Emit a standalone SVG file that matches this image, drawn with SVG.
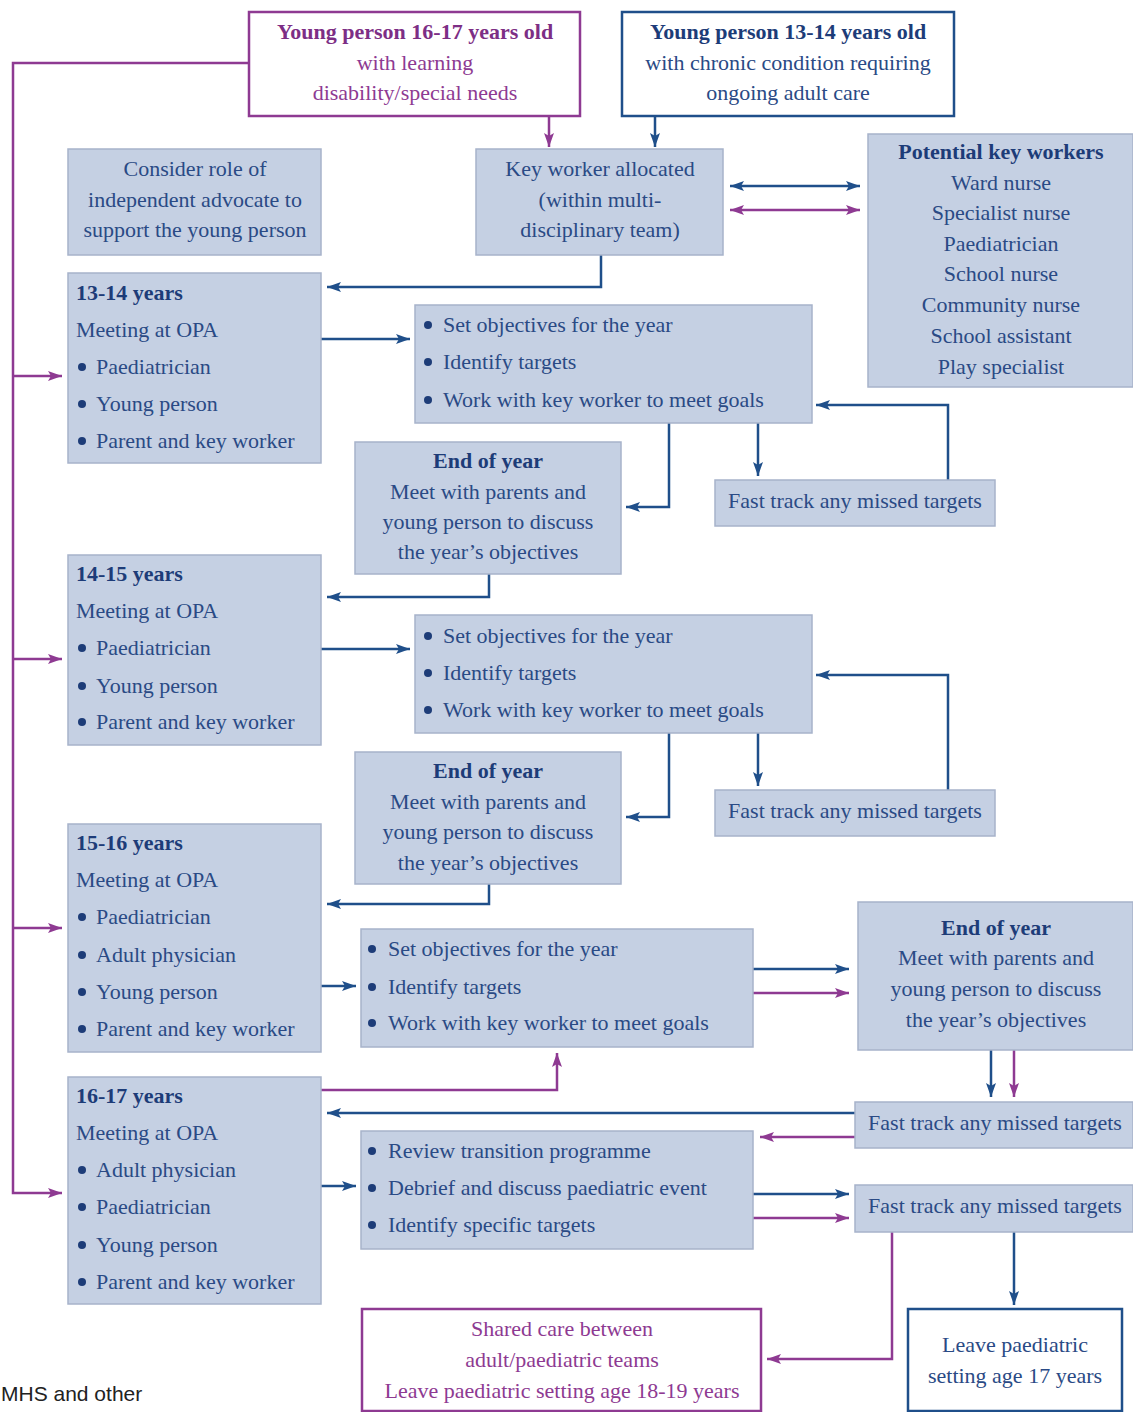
<svg xmlns="http://www.w3.org/2000/svg" width="1133" height="1412" viewBox="0 0 1133 1412">
<style>
.box{fill:#c5d0e3;stroke:#a7b3ca;stroke-width:1.5}
.pbox{fill:#fff;stroke:#8e3a92;stroke-width:2.5}
.bbox{fill:#fff;stroke:#1f4f8a;stroke-width:2.5}
text{font-family:"Liberation Serif","Times New Roman",serif;font-size:22px;fill:#2a4a85}
.h{font-weight:bold;fill:#1d3c78}
.c{text-anchor:middle}
.p{fill:#8e3a92}
.ph{font-weight:bold;fill:#7d2e85}
.dot{fill:#1d3c78}
.lb{fill:none;stroke:#1f4f8a;stroke-width:2.5}
.lp{fill:none;stroke:#8e3a92;stroke-width:2.5}
</style>
<defs>
<marker id="ab" markerWidth="14" markerHeight="10" refX="14" refY="5" orient="auto-start-reverse" markerUnits="userSpaceOnUse"><path d="M0,0 L14,5 L0,10 L3,5 z" fill="#1f4f8a"/></marker>
<marker id="ap" markerWidth="14" markerHeight="10" refX="14" refY="5" orient="auto-start-reverse" markerUnits="userSpaceOnUse"><path d="M0,0 L14,5 L0,10 L3,5 z" fill="#8e3a92"/></marker>
</defs>
<rect width="1133" height="1412" fill="#fff"/>

<g id="connectors">
<path class="lp" d="M249,63 H13 V1193 H62" marker-end="url(#ap)"/>
<path class="lp" d="M13,376 H62" marker-end="url(#ap)"/>
<path class="lp" d="M13,659 H62" marker-end="url(#ap)"/>
<path class="lp" d="M13,928 H62" marker-end="url(#ap)"/>
<path class="lp" d="M549,116 V147" marker-end="url(#ap)"/>
<path class="lb" d="M655,116 V147" marker-end="url(#ab)"/>
<path class="lb" d="M730,186 H860" marker-start="url(#ab)" marker-end="url(#ab)"/>
<path class="lp" d="M730,210 H860" marker-start="url(#ap)" marker-end="url(#ap)"/>
<path class="lb" d="M601,255 V287 H327" marker-end="url(#ab)"/>
<path class="lb" d="M321,339 H410" marker-end="url(#ab)"/>
<path class="lb" d="M669,423 V507 H626" marker-end="url(#ab)"/>
<path class="lb" d="M758,423 V476" marker-end="url(#ab)"/>
<path class="lb" d="M948,480 V405 H816" marker-end="url(#ab)"/>
<path class="lb" d="M489,574 V597 H327" marker-end="url(#ab)"/>
<path class="lb" d="M321,649 H410" marker-end="url(#ab)"/>
<path class="lb" d="M669,733 V817 H626" marker-end="url(#ab)"/>
<path class="lb" d="M758,733 V786" marker-end="url(#ab)"/>
<path class="lb" d="M948,790 V675 H816" marker-end="url(#ab)"/>
<path class="lb" d="M489,884 V904 H327" marker-end="url(#ab)"/>
<path class="lb" d="M321,986 H356" marker-end="url(#ab)"/>
<path class="lb" d="M753,969 H849" marker-end="url(#ab)"/>
<path class="lp" d="M753,993 H849" marker-end="url(#ap)"/>
<path class="lb" d="M991,1050 V1097" marker-end="url(#ab)"/>
<path class="lp" d="M1014,1050 V1097" marker-end="url(#ap)"/>
<path class="lb" d="M855,1113 H327" marker-end="url(#ab)"/>
<path class="lp" d="M855,1137 H760" marker-end="url(#ap)"/>
<path class="lp" d="M321,1090 H557 V1053" marker-end="url(#ap)"/>
<path class="lb" d="M321,1186 H356" marker-end="url(#ab)"/>
<path class="lb" d="M753,1194 H849" marker-end="url(#ab)"/>
<path class="lp" d="M753,1218 H849" marker-end="url(#ap)"/>
<path class="lb" d="M1014,1232 V1305" marker-end="url(#ab)"/>
<path class="lp" d="M892,1232 V1359 H767" marker-end="url(#ap)"/>
</g>

<g id="n-yp1617">
<rect class="pbox" x="249" y="12" width="331" height="104"/>
<text class="c ph" x="415" y="39">Young person 16-17 years old</text>
<text class="c p" x="415" y="70">with learning</text>
<text class="c p" x="415" y="100">disability/special needs</text>
</g>
<g id="n-yp1314">
<rect class="bbox" x="622" y="12" width="332" height="104"/>
<text class="c h" x="788" y="39">Young person 13-14 years old</text>
<text class="c" x="788" y="70">with chronic condition requiring</text>
<text class="c" x="788" y="100">ongoing adult care</text>
</g>
<g id="n-advocate">
<rect class="box" x="68" y="149" width="253" height="106"/>
<text class="c" x="195" y="176">Consider role of</text>
<text class="c" x="195" y="207">independent advocate to</text>
<text class="c" x="195" y="237">support the young person</text>
</g>
<g id="n-keyworker">
<rect class="box" x="476" y="149" width="247" height="106"/>
<text class="c" x="600" y="176">Key worker allocated</text>
<text class="c" x="600" y="207">(within multi-</text>
<text class="c" x="600" y="237">disciplinary team)</text>
</g>
<g id="n-potential">
<rect class="box" x="868" y="134" width="265" height="253"/>
<text class="c h" x="1001" y="159">Potential key workers</text>
<text class="c" x="1001" y="190">Ward nurse</text>
<text class="c" x="1001" y="220">Specialist nurse</text>
<text class="c" x="1001" y="251">Paediatrician</text>
<text class="c" x="1001" y="281">School nurse</text>
<text class="c" x="1001" y="312">Community nurse</text>
<text class="c" x="1001" y="343">School assistant</text>
<text class="c" x="1001" y="374">Play specialist</text>
</g>

<g id="n-y1314">
<rect class="box" x="68" y="273" width="253" height="190"/>
<text class="h" x="76" y="300">13-14 years</text>
<text x="76" y="337">Meeting at OPA</text>
<circle class="dot" cx="82" cy="367" r="4"/><text x="96" y="374">Paediatrician</text>
<circle class="dot" cx="82" cy="404" r="4"/><text x="96" y="411">Young person</text>
<circle class="dot" cx="82" cy="441" r="4"/><text x="96" y="448">Parent and key worker</text>
</g>
<g id="n-obj1">
<rect class="box" x="415" y="305" width="397" height="118"/>
<circle class="dot" cx="428" cy="325" r="4"/><text x="443" y="332">Set objectives for the year</text>
<circle class="dot" cx="428" cy="362" r="4"/><text x="443" y="369">Identify targets</text>
<circle class="dot" cx="428" cy="400" r="4"/><text x="443" y="407">Work with key worker to meet goals</text>
</g>
<g id="n-eoy1">
<rect class="box" x="355" y="442" width="266" height="132"/>
<text class="c h" x="488" y="468">End of year</text>
<text class="c" x="488" y="499">Meet with parents and</text>
<text class="c" x="488" y="529">young person to discuss</text>
<text class="c" x="488" y="559">the year’s objectives</text>
</g>
<g id="n-fast1">
<rect class="box" x="715" y="480" width="280" height="46"/>
<text class="c" x="855" y="508">Fast track any missed targets</text>
</g>

<g id="n-y1415">
<rect class="box" x="68" y="555" width="253" height="190"/>
<text class="h" x="76" y="581">14-15 years</text>
<text x="76" y="618">Meeting at OPA</text>
<circle class="dot" cx="82" cy="648" r="4"/><text x="96" y="655">Paediatrician</text>
<circle class="dot" cx="82" cy="686" r="4"/><text x="96" y="693">Young person</text>
<circle class="dot" cx="82" cy="722" r="4"/><text x="96" y="729">Parent and key worker</text>
</g>
<g id="n-obj2">
<rect class="box" x="415" y="615" width="397" height="118"/>
<circle class="dot" cx="428" cy="636" r="4"/><text x="443" y="643">Set objectives for the year</text>
<circle class="dot" cx="428" cy="673" r="4"/><text x="443" y="680">Identify targets</text>
<circle class="dot" cx="428" cy="710" r="4"/><text x="443" y="717">Work with key worker to meet goals</text>
</g>
<g id="n-eoy2">
<rect class="box" x="355" y="752" width="266" height="132"/>
<text class="c h" x="488" y="778">End of year</text>
<text class="c" x="488" y="809">Meet with parents and</text>
<text class="c" x="488" y="839">young person to discuss</text>
<text class="c" x="488" y="870">the year’s objectives</text>
</g>
<g id="n-fast2">
<rect class="box" x="715" y="790" width="280" height="46"/>
<text class="c" x="855" y="818">Fast track any missed targets</text>
</g>

<g id="n-y1516">
<rect class="box" x="68" y="824" width="253" height="228"/>
<text class="h" x="76" y="850">15-16 years</text>
<text x="76" y="887">Meeting at OPA</text>
<circle class="dot" cx="82" cy="917" r="4"/><text x="96" y="924">Paediatrician</text>
<circle class="dot" cx="82" cy="955" r="4"/><text x="96" y="962">Adult physician</text>
<circle class="dot" cx="82" cy="992" r="4"/><text x="96" y="999">Young person</text>
<circle class="dot" cx="82" cy="1029" r="4"/><text x="96" y="1036">Parent and key worker</text>
</g>
<g id="n-obj3">
<rect class="box" x="361" y="929" width="392" height="118"/>
<circle class="dot" cx="372" cy="949" r="4"/><text x="388" y="956">Set objectives for the year</text>
<circle class="dot" cx="372" cy="987" r="4"/><text x="388" y="994">Identify targets</text>
<circle class="dot" cx="372" cy="1023" r="4"/><text x="388" y="1030">Work with key worker to meet goals</text>
</g>
<g id="n-eoy3">
<rect class="box" x="858" y="902" width="275" height="148"/>
<text class="c h" x="996" y="935">End of year</text>
<text class="c" x="996" y="965">Meet with parents and</text>
<text class="c" x="996" y="996">young person to discuss</text>
<text class="c" x="996" y="1027">the year’s objectives</text>
</g>
<g id="n-fast3">
<rect class="box" x="855" y="1102" width="278" height="46"/>
<text class="c" x="995" y="1130">Fast track any missed targets</text>
</g>

<g id="n-y1617">
<rect class="box" x="68" y="1077" width="253" height="227"/>
<text class="h" x="76" y="1103">16-17 years</text>
<text x="76" y="1140">Meeting at OPA</text>
<circle class="dot" cx="82" cy="1170" r="4"/><text x="96" y="1177">Adult physician</text>
<circle class="dot" cx="82" cy="1207" r="4"/><text x="96" y="1214">Paediatrician</text>
<circle class="dot" cx="82" cy="1245" r="4"/><text x="96" y="1252">Young person</text>
<circle class="dot" cx="82" cy="1282" r="4"/><text x="96" y="1289">Parent and key worker</text>
</g>
<g id="n-review">
<rect class="box" x="361" y="1131" width="392" height="118"/>
<circle class="dot" cx="372" cy="1151" r="4"/><text x="388" y="1158">Review transition programme</text>
<circle class="dot" cx="372" cy="1188" r="4"/><text x="388" y="1195">Debrief and discuss paediatric event</text>
<circle class="dot" cx="372" cy="1225" r="4"/><text x="388" y="1232">Identify specific targets</text>
</g>
<g id="n-fast4">
<rect class="box" x="855" y="1185" width="278" height="47"/>
<text class="c" x="995" y="1213">Fast track any missed targets</text>
</g>
<g id="n-shared">
<rect class="pbox" x="362" y="1309" width="399" height="102"/>
<text class="c p" x="562" y="1336">Shared care between</text>
<text class="c p" x="562" y="1367">adult/paediatric teams</text>
<text class="c p" x="562" y="1398">Leave paediatric setting age 18-19 years</text>
</g>
<g id="n-leave">
<rect class="bbox" x="908" y="1309" width="214" height="102"/>
<text class="c" x="1015" y="1352">Leave paediatric</text>
<text class="c" x="1015" y="1383">setting age 17 years</text>
</g>
<text x="1" y="1401" style="font-family:'Liberation Sans',Arial,sans-serif;font-size:21px;fill:#222">MHS and other</text>
</svg>
